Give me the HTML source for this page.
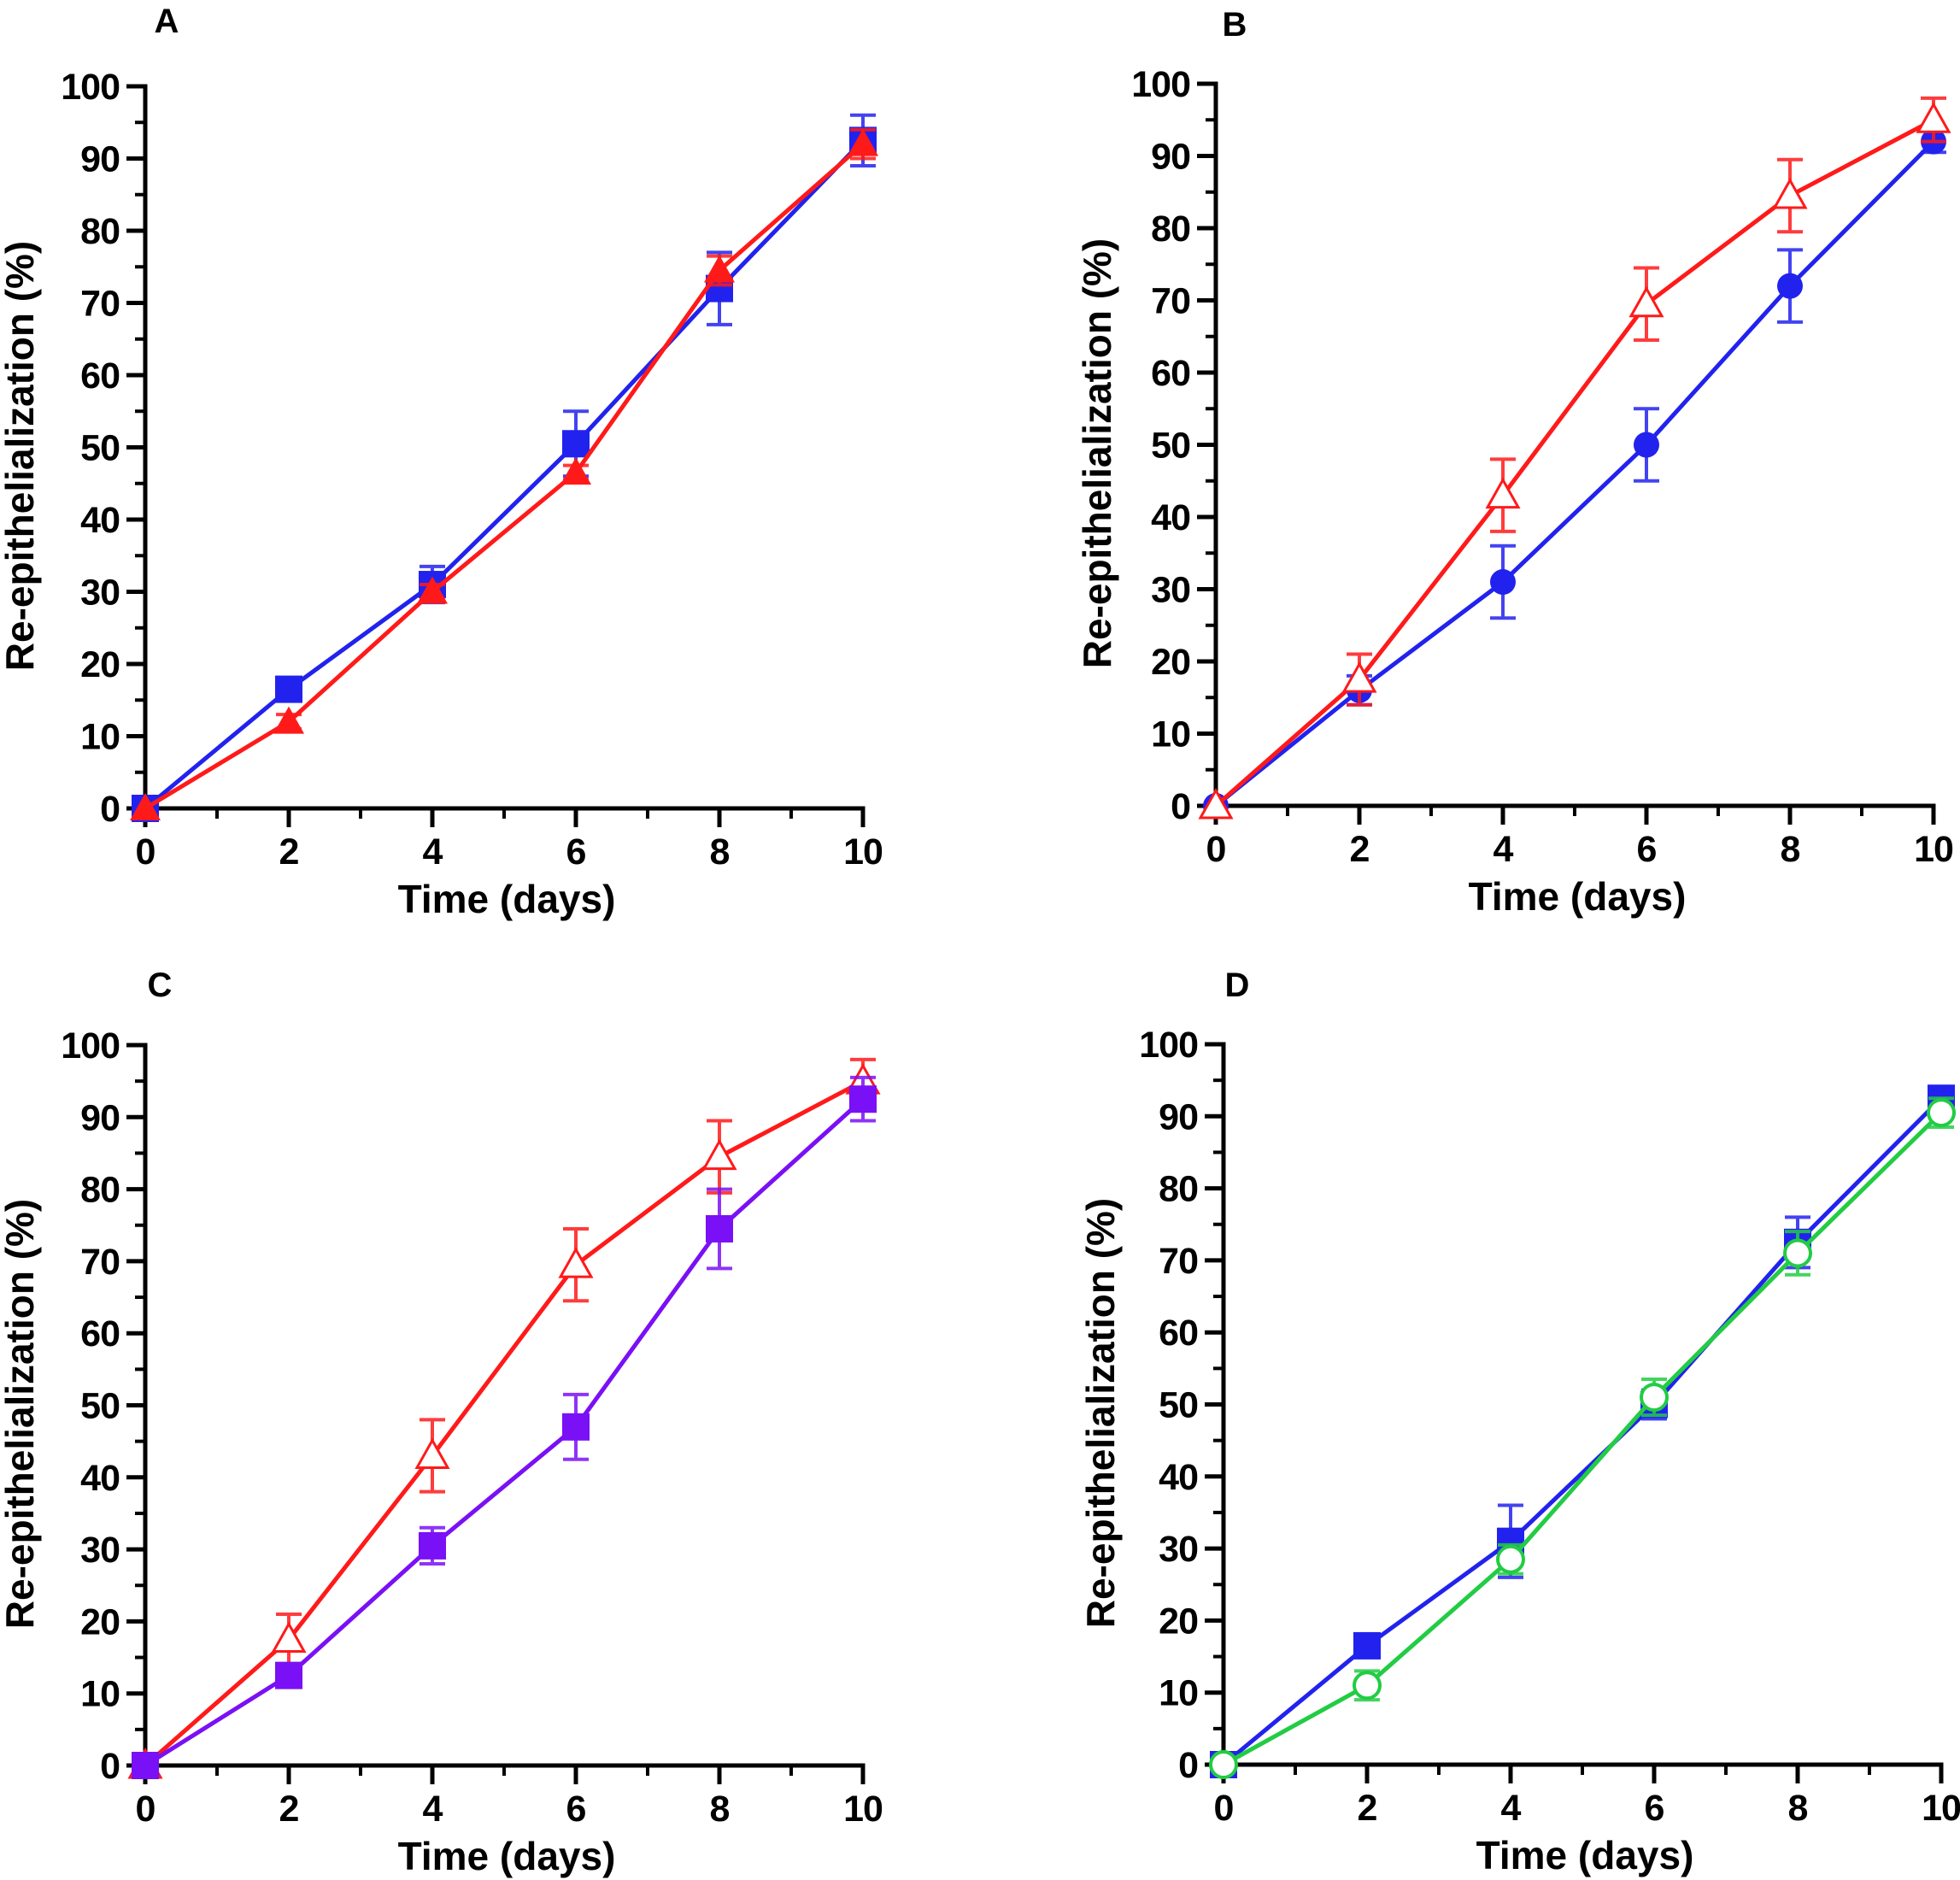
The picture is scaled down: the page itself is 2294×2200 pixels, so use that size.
<!DOCTYPE html>
<html><head><meta charset="utf-8">
<style>
html,body{margin:0;padding:0;background:#fff;}
svg{display:block;font-family:"Liberation Sans",Arial,sans-serif;font-weight:bold;}
</style></head>
<body>
<svg id="fig" width="2294" height="2200" viewBox="0 0 2294 2200" xmlns="http://www.w3.org/2000/svg"></svg>
<script>
const days = [0, 2, 4, 6, 8, 10];
const xTicks = [0, 2, 4, 6, 8, 10];
const yTicks = [0, 10, 20, 30, 40, 50, 60, 70, 80, 90, 100];

const aBlue = [0, 16.5, 31, 50.5, 72, 92.5];
const aBlueErr = [0, 1.5, 2.5, 4.5, 5, 3.5];
const aRed = [0, 12, 30, 46.5, 74.5, 92];
const aRedErr = [0, 1, 1, 1, 2, 2];

const bBlue = [0, 16, 31, 50, 72, 92];
const bBlueErr = [0, 2, 5, 5, 5, 1.5];
const bRed = [0, 17.5, 43, 69.5, 84.5, 95];
const bRedErr = [0, 3.5, 5, 5, 5, 3];

const cRed = [0, 17.5, 43, 69.5, 84.5, 95];
const cRedErr = [0, 3.5, 5, 5, 5, 3];
const cPurple = [0, 12.5, 30.5, 47, 74.5, 92.5];
const cPurpleErr = [0, 1.5, 2.5, 4.5, 5.5, 3];

const dBlue = [0, 16.5, 31, 50, 72.5, 92.5];
const dBlueErr = [0, 1, 5, 2, 3.5, 1.5];
const dGreen = [0, 11, 28.5, 51, 71, 90.5];
const dGreenErr = [0, 2, 2, 2.5, 3, 2];

const NS = "http://www.w3.org/2000/svg";
const svg = document.getElementById("fig");
function mk(tag, attrs, parent) {
  const e = document.createElementNS(NS, tag);
  for (const k in attrs) e.setAttribute(k, attrs[k]);
  (parent || svg).appendChild(e);
  return e;
}

function panel(opt) {
  const g = mk("g", {});
  
  
  const X = v => opt.x0 + (opt.x1 - opt.x0) * v / 10;
  const Y = v => opt.y0 - (opt.y0 - opt.y100) * v / 100;

  const lab = mk("text", {x: opt.lx, y: opt.ly, "font-size": 40, "text-anchor": "middle"}, g);
  lab.textContent = opt.letter;
  
  

  const ax = mk("path", {d: `M${X(0)-22},${Y(100)} H${X(0)} V${Y(0)} H${X(10)} V${Y(0)+22}`, fill: "none", stroke: "#000", "stroke-width": 5}, g);
  
  
  yTicks.forEach(t => {
    const tk = mk("line", {x1: X(0)-22, x2: X(0), y1: Y(t), y2: Y(t), stroke: "#000", "stroke-width": 5}, g);
    
    
    if (t < 100) {
      const mn = mk("line", {x1: X(0)-12, x2: X(0), y1: Y(t+5), y2: Y(t+5), stroke: "#000", "stroke-width": 4}, g);
      
      
    }
    const tl = mk("text", {x: X(0)-30, y: Y(t)+15, "font-size": 43, "text-anchor": "end", "letter-spacing": -1}, g);
    tl.textContent = t;
    
    
  });
  xTicks.forEach(t => {
    const tk = mk("line", {x1: X(t), x2: X(t), y1: Y(0), y2: Y(0)+22, stroke: "#000", "stroke-width": 5}, g);
    
    
    if (t < 10) {
      const mn = mk("line", {x1: X(t+1), x2: X(t+1), y1: Y(0), y2: Y(0)+12, stroke: "#000", "stroke-width": 4}, g);
      
      
    }
    const tl = mk("text", {x: X(t), y: Y(0)+65, "font-size": 43, "text-anchor": "middle", "letter-spacing": -1}, g);
    tl.textContent = t;
    
    
  });
  const xt = mk("text", {x: (X(0)+X(10))/2 + 3, y: Y(0)+122, "font-size": 46, "text-anchor": "middle"}, g);
  xt.textContent = "Time (days)";
  
  
  const yc = (Y(0)+Y(100))/2 + 10;
  const yt = mk("text", {x: opt.ytx, y: yc, "font-size": 46, "text-anchor": "middle", transform: `rotate(-90 ${opt.ytx} ${yc})`}, g);
  yt.textContent = "Re-epithelialization (%)";
  
  

  opt.series.forEach(s => {
    const sg = mk("g", {}, g);
    
    
    const pts = days.map((d, i) => X(d) + "," + Y(s.vals[i])).join(" ");
    const pl = mk("polyline", {points: pts, fill: "none", stroke: s.color, "stroke-width": 5}, sg);
    
    
    days.forEach((d, i) => {
      const cx = X(d), cy = Y(s.vals[i]), e = s.err[i];
      if (e > 0) {
        const eb = mk("path", {d: `M${cx},${Y(s.vals[i]+e)} V${Y(s.vals[i]-e)} M${cx-15},${Y(s.vals[i]+e)} h30 M${cx-15},${Y(s.vals[i]-e)} h30`, stroke: s.color, "stroke-width": 4, fill: "none", opacity: 0.85}, sg);
        
        
      }
      let m;
      const fill = s.open ? "#fff" : s.color;
      if (s.marker === "circle") {
        m = mk("circle", {cx, cy, r: 15, fill, stroke: s.color, "stroke-width": s.open ? 4 : 0}, sg);
      } else if (s.marker === "square") {
        m = mk("rect", {x: cx-16, y: cy-16, width: 32, height: 32, fill, stroke: s.color, "stroke-width": s.open ? 4 : 0}, sg);
      } else {
        m = mk("polygon", {points: `${cx},${cy-18} ${cx+18},${cy+14} ${cx-18},${cy+14}`, fill, stroke: s.color, "stroke-width": s.open ? 3 : 0}, sg);
      }
      
      
    });
  });
}

const BLUE = "#2222ee", RED = "#ff1a1a", PURPLE = "#7a10f5", GREEN = "#22cc44";

panel({letter: "A", lx: 195, ly: 38, x0: 170, x1: 1010, y0: 946, y100: 101, ytx: 39,
  series: [
    {name: "series-blue-circles", vals: aBlue, err: aBlueErr, color: BLUE, marker: "square"},
    {name: "series-red-triangles", vals: aRed, err: aRedErr, color: RED, marker: "tri"}
  ]});
panel({letter: "B", lx: 1445, ly: 42, x0: 1423, x1: 2263, y0: 943, y100: 98, ytx: 1300,
  series: [
    {name: "series-blue-circles", vals: bBlue, err: bBlueErr, color: BLUE, marker: "circle"},
    {name: "series-red-open-triangles", vals: bRed, err: bRedErr, color: RED, marker: "tri", open: true}
  ]});
panel({letter: "C", lx: 187, ly: 1166, x0: 170, x1: 1010, y0: 2066, y100: 1223, ytx: 39,
  series: [
    {name: "series-red-open-triangles", vals: cRed, err: cRedErr, color: RED, marker: "tri", open: true},
    {name: "series-purple-squares", vals: cPurple, err: cPurpleErr, color: PURPLE, marker: "square"}
  ]});
panel({letter: "D", lx: 1448, ly: 1166, x0: 1432, x1: 2272, y0: 2065, y100: 1222, ytx: 1304,
  series: [
    {name: "series-blue-squares", vals: dBlue, err: dBlueErr, color: BLUE, marker: "square"},
    {name: "series-green-open-circles", vals: dGreen, err: dGreenErr, color: GREEN, marker: "circle", open: true}
  ]});
</script>
</body></html>
